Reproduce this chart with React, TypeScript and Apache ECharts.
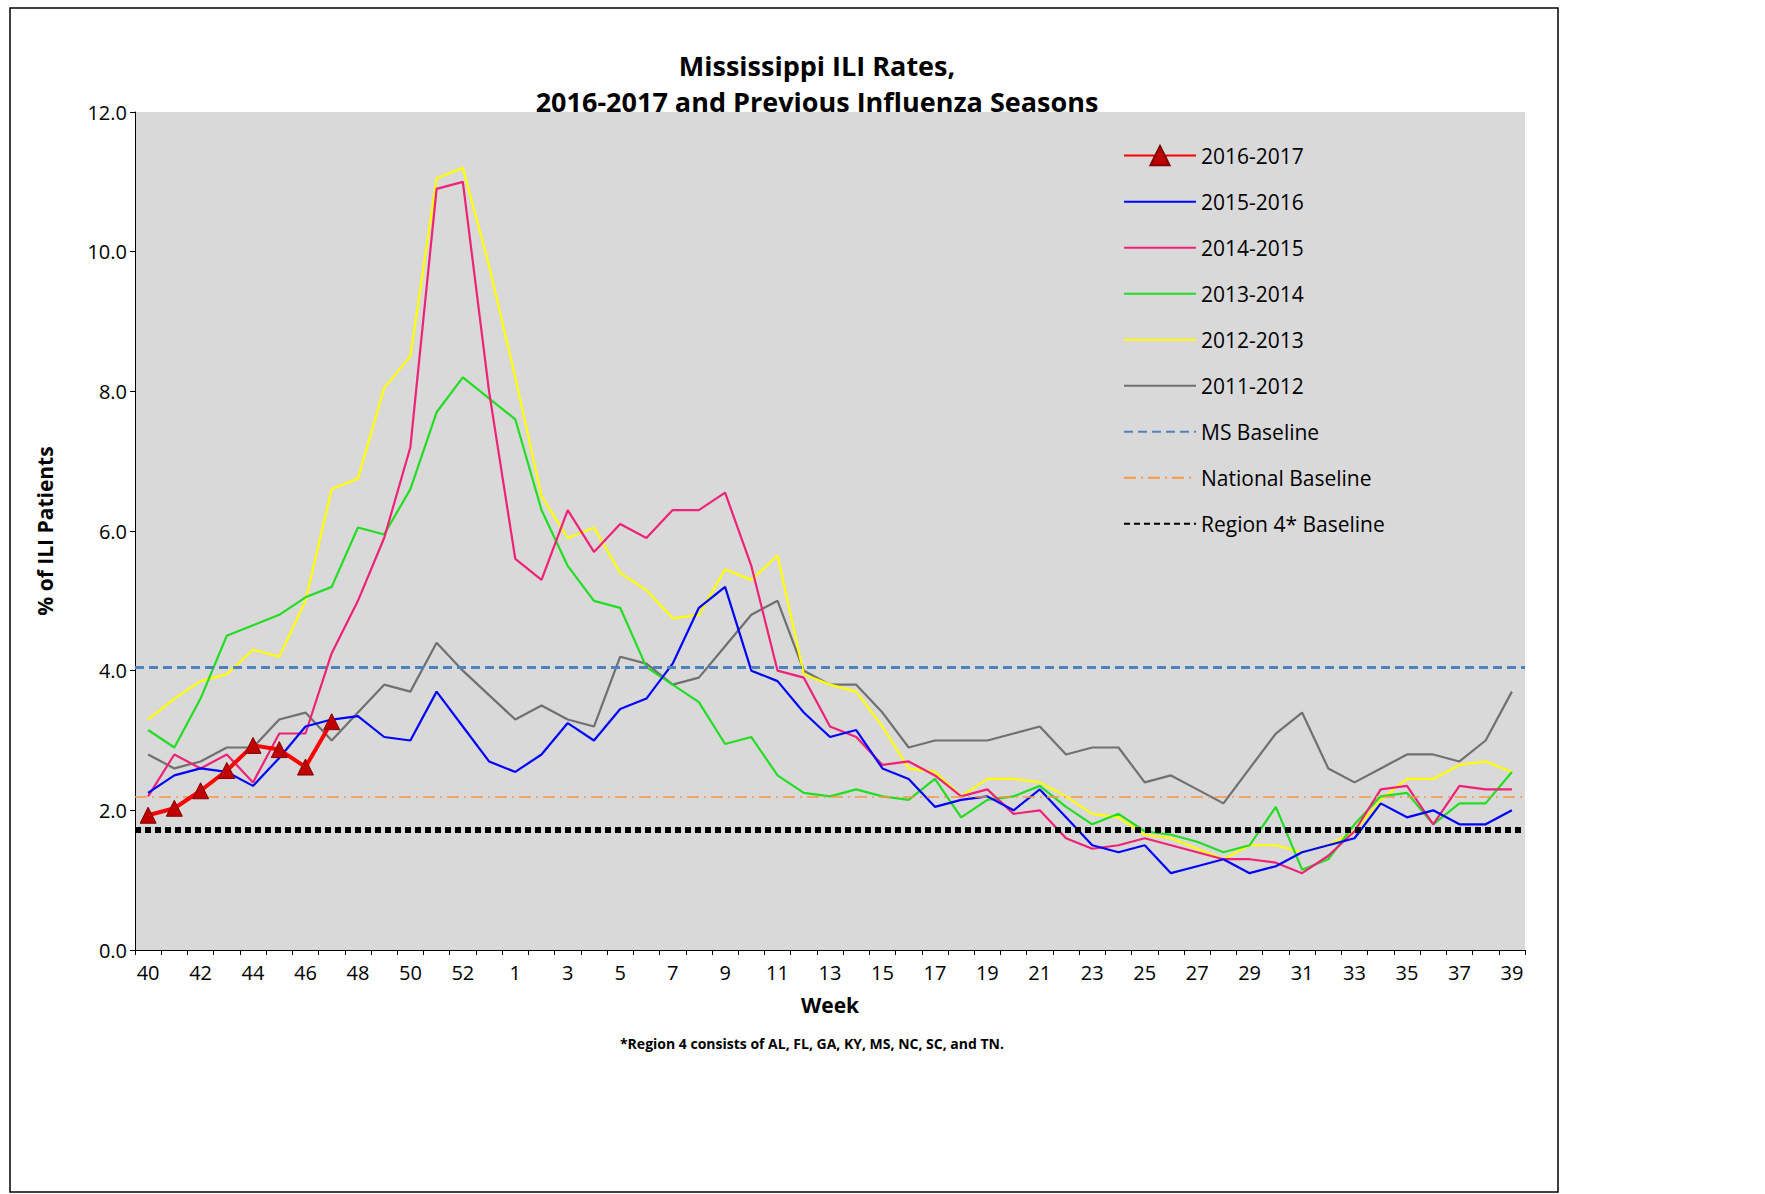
import { useEffect, useRef } from 'react'
import * as echarts from 'echarts'

const weeks = [
  '40', '41', '42', '43', '44', '45', '46', '47', '48', '49', '50', '51', '52', '53',
  '1', '2', '3', '4', '5', '6', '7', '8', '9', '10', '11', '12', '13', '14', '15', '16', '17', '18', '19', '20',
  '21', '22', '23', '24', '25', '26', '27', '28', '29', '30', '31', '32', '33', '34', '35', '36', '37', '38', '39',
]

const s2016 = [1.93, 2.03, 2.28, 2.57, 2.93, 2.87, 2.62, 3.27]
const s2015 = [
  2.25, 2.5, 2.6, 2.55, 2.35, 2.75, 3.2, 3.3, 3.35, 3.05, 3.0, 3.7, 3.2, 2.7,
  2.55, 2.8, 3.25, 3.0, 3.45, 3.6, 4.1, 4.9, 5.2, 4.0, 3.85, 3.4, 3.05, 3.15, 2.6, 2.45, 2.05, 2.15, 2.2, 2.0,
  2.3, 1.9, 1.5, 1.4, 1.5, 1.1, 1.2, 1.3, 1.1, 1.2, 1.4, 1.5, 1.6, 2.1, 1.9, 2.0, 1.8, 1.8, 2.0,
]
const s2014 = [
  2.2, 2.8, 2.6, 2.8, 2.4, 3.1, 3.1, 4.25, 5.0, 5.9, 7.2, 10.9, 11.0, 8.0,
  5.6, 5.3, 6.3, 5.7, 6.1, 5.9, 6.3, 6.3, 6.55, 5.5, 4.0, 3.9, 3.2, 3.05, 2.65, 2.7, 2.5, 2.2, 2.3, 1.95,
  2.0, 1.6, 1.45, 1.5, 1.6, 1.5, 1.4, 1.3, 1.3, 1.25, 1.1, 1.35, 1.7, 2.3, 2.35, 1.8, 2.35, 2.3, 2.3,
]
const s2013 = [
  3.15, 2.9, 3.6, 4.5, 4.65, 4.8, 5.05, 5.2, 6.05, 5.95, 6.6, 7.7, 8.2, 7.9,
  7.6, 6.3, 5.5, 5.0, 4.9, 4.05, 3.8, 3.55, 2.95, 3.05, 2.5, 2.25, 2.2, 2.3, 2.2, 2.15, 2.45, 1.9, 2.15, 2.2,
  2.35, 2.05, 1.8, 1.95, 1.7, 1.65, 1.55, 1.4, 1.5, 2.05, 1.15, 1.3, 1.8, 2.2, 2.25, 1.8, 2.1, 2.1, 2.55,
]
const s2012 = [
  3.3, 3.6, 3.85, 3.95, 4.3, 4.2, 5.0, 6.6, 6.75, 8.05, 8.5, 11.05, 11.2, 9.8,
  8.2, 6.5, 5.9, 6.05, 5.4, 5.15, 4.75, 4.8, 5.45, 5.3, 5.65, 3.95, 3.8, 3.7, 3.2, 2.6, 2.55, 2.2, 2.45, 2.45,
  2.4, 2.2, 1.95, 1.9, 1.65, 1.6, 1.45, 1.3, 1.5, 1.5, 1.4, 1.5, 1.7, 2.15, 2.45, 2.45, 2.65, 2.7, 2.55,
]
const s2011 = [
  2.8, 2.6, 2.7, 2.9, 2.9, 3.3, 3.4, 3.0, 3.4, 3.8, 3.7, 4.4, 4.0, 3.65,
  3.3, 3.5, 3.3, 3.2, 4.2, 4.1, 3.8, 3.9, 4.35, 4.8, 5.0, 4.0, 3.8, 3.8, 3.4, 2.9, 3.0, 3.0, 3.0, 3.1,
  3.2, 2.8, 2.9, 2.9, 2.4, 2.5, 2.3, 2.1, 2.6, 3.1, 3.4, 2.6, 2.4, 2.6, 2.8, 2.8, 2.7, 3.0, 3.7,
]

const msBaseline = 4.05
const nationalBaseline = 2.2
const region4Baseline = 1.72

const legendNames = [
  '2016-2017', '2015-2016', '2014-2015', '2013-2014', '2012-2013', '2011-2012',
  'MS Baseline', 'National Baseline', 'Region 4* Baseline',
]

const font = 'Open Sans, Noto Sans, sans-serif'

const plain = (name: string, data: number[], color: string, width: number) => ({
  name,
  type: 'line',
  data,
  symbol: 'none',
  lineStyle: { color, width },
  itemStyle: { color },
})

const baseline = (name: string, value: number, color: string, width: number, type: any) => ({
  name,
  type: 'line',
  data: [],
  symbol: 'none',
  lineStyle: { color, width, type },
  itemStyle: { color },
  markLine: {
    silent: true,
    symbol: 'none',
    label: { show: false },
    lineStyle: { color, width, type },
    data: [{ yAxis: value }],
  },
})

export default function App() {
  const ref = useRef<HTMLDivElement>(null)

  useEffect(() => {
    if (!ref.current) return
    const chart = echarts.init(ref.current, null, { renderer: 'svg' })
    chart.setOption({
      animation: false,
      backgroundColor: '#fff',
      textStyle: { fontFamily: font },
      title: {
        text: 'Mississippi ILI Rates,\n2016-2017 and Previous Influenza Seasons',
        left: 812,
        textAlign: 'center',
        top: 42,
        textStyle: { fontSize: 27, fontWeight: 'bold', color: '#000', lineHeight: 36, fontFamily: font },
      },
      graphic: [
        {
          type: 'rect',
          shape: { x: 10, y: 8, width: 1548, height: 1184 },
          style: { fill: 'none', stroke: '#000', lineWidth: 1.5 },
          z: -1,
        },
        {
          type: 'text',
          style: {
            text: '*Region 4 consists of AL, FL, GA, KY, MS, NC, SC, and TN.',
            x: 812,
            y: 1036,
            textAlign: 'center',
            font: 'bold 14px ' + font,
            fill: '#000',
          },
        },
      ],
      grid: { left: 135, top: 112, right: 240, bottom: 244, backgroundColor: '#d9d9d9', show: true, borderWidth: 0 },
      legend: {
        orient: 'vertical',
        left: 1118,
        top: 140,
        itemGap: 25,
        itemWidth: 72,
        itemHeight: 24,
        itemStyle: { opacity: 0 },
        textStyle: { fontSize: 21, color: '#000', fontFamily: font },
        data: legendNames.map((name, i) =>
          i === 0 ? { name, itemStyle: { opacity: 1 } } : { name }
        ),
      },
      xAxis: {
        type: 'category',
        data: weeks,
        boundaryGap: true,
        name: 'Week',
        nameLocation: 'middle',
        nameGap: 44,
        nameTextStyle: { fontSize: 21, fontWeight: 'bold', color: '#000' },
        axisLine: { lineStyle: { color: '#000' } },
        axisTick: { show: true, interval: 0, lineStyle: { color: '#000' } },
        axisLabel: { interval: 1, fontSize: 20, color: '#000', margin: 12 },
      },
      yAxis: {
        type: 'value',
        min: 0,
        max: 12,
        interval: 2,
        name: '% of ILI Patients',
        nameLocation: 'middle',
        nameGap: 80,
        nameTextStyle: { fontSize: 21, fontWeight: 'bold', color: '#000' },
        splitLine: { show: false },
        axisLine: { show: true, lineStyle: { color: '#000' } },
        axisTick: { show: true, lineStyle: { color: '#000' } },
        axisLabel: { fontSize: 20, color: '#000', formatter: (v: number) => v.toFixed(1) },
      },
      series: [
        baseline('MS Baseline', msBaseline, '#4f81bd', 3, [9, 5]),
        baseline('National Baseline', nationalBaseline, '#f79646', 1.5, [12, 5, 2, 5]),
        baseline('Region 4* Baseline', region4Baseline, '#000', 6, [6, 4]),
        plain('2011-2012', s2011, '#707070', 2.2),
        plain('2012-2013', s2012, '#ffff00', 2.2),
        plain('2013-2014', s2013, '#22dd22', 2.2),
        plain('2014-2015', s2014, '#ee2277', 2.2),
        plain('2015-2016', s2015, '#0000ff', 2.2),
        {
          name: '2016-2017',
          type: 'line',
          data: s2016,
          symbol: 'triangle',
          symbolSize: 16,
          lineStyle: { color: '#ff0000', width: 4 },
          itemStyle: { color: '#c00000', borderColor: '#800000', borderWidth: 1 },
          z: 5,
        },
      ],
    })
    return () => chart.dispose()
  }, [])

  return <div ref={ref} style={{ position: 'fixed', left: 0, top: 0, width: 1765, height: 1194 }} />
}
